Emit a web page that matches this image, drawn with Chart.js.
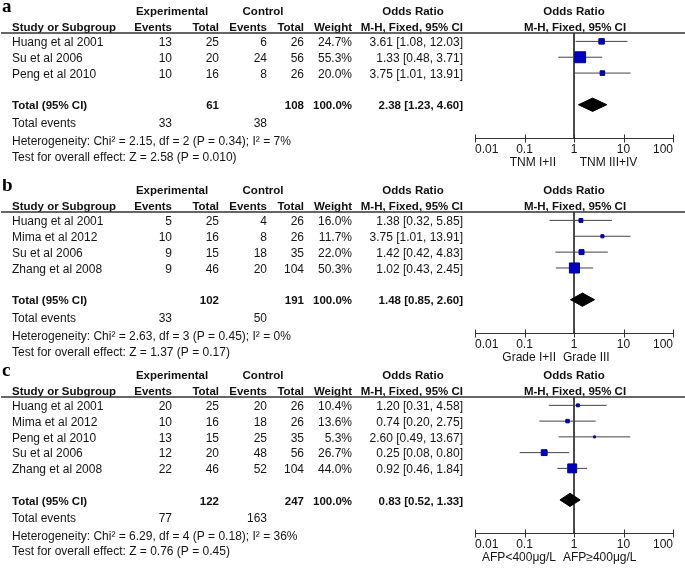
<!DOCTYPE html>
<html>
<head>
<meta charset="utf-8">
<script src="https://cdn.jsdelivr.net/npm/chart.js@4.4.1/dist/chart.umd.min.js"></script>
<style>
  body { margin: 0; background: #fff; }
  #wrap { position: relative; width: 685px; height: 574px; overflow: hidden; background: #fff; }
  canvas { position: absolute; left: 0; }
</style>
</head>
<body>
<div id="wrap">
  <canvas id="panel0"></canvas>
  <canvas id="panel1"></canvas>
  <canvas id="panel2"></canvas>
</div>
<script>
// ---- data (one sub-array per panel a, b, c) ----
const panelLetters = ['a', 'b', 'c'];
const studies = [
    ['Huang et al 2001', 'Su et al 2006', 'Peng et al 2010'],
    ['Huang et al 2001', 'Mima et al 2012', 'Su et al 2006', 'Zhang et al 2008'],
    ['Huang et al 2001', 'Mima et al 2012', 'Peng et al 2010', 'Su et al 2006', 'Zhang et al 2008']
];
const expEvents = [[13, 10, 10], [5, 10, 9, 9], [20, 10, 13, 12, 22]];
const expTotal  = [[25, 20, 16], [25, 16, 15, 46], [25, 16, 15, 20, 46]];
const ctlEvents = [[6, 24, 8], [4, 8, 18, 20], [20, 18, 25, 48, 52]];
const ctlTotal  = [[26, 56, 26], [26, 26, 35, 104], [26, 26, 35, 56, 104]];
const weights   = [[24.7, 55.3, 20.0], [16.0, 11.7, 22.0, 50.3], [10.4, 13.6, 5.3, 26.7, 44.0]];
const oddsRatio = [[3.61, 1.33, 3.75], [1.38, 3.75, 1.42, 1.02], [1.20, 0.74, 2.60, 0.25, 0.92]];
const ciLow     = [[1.08, 0.48, 1.01], [0.32, 1.01, 0.42, 0.43], [0.31, 0.20, 0.49, 0.08, 0.46]];
const ciHigh    = [[12.03, 3.71, 13.91], [5.85, 13.91, 4.83, 2.45], [4.58, 2.75, 13.67, 0.80, 1.84]];

const pooledExpTotal  = [61, 102, 122];
const pooledCtlTotal  = [108, 191, 247];
const pooledExpEvents = [33, 33, 77];
const pooledCtlEvents = [38, 50, 163];
const pooledOR   = [2.38, 1.48, 0.83];
const pooledLow  = [1.23, 0.85, 0.52];
const pooledHigh = [4.60, 2.60, 1.33];
const heterogeneity = [
    'Heterogeneity: Chi\u00b2 = 2.15, df = 2 (P = 0.34); I\u00b2 = 7%',
    'Heterogeneity: Chi\u00b2 = 2.63, df = 3 (P = 0.45); I\u00b2 = 0%',
    'Heterogeneity: Chi\u00b2 = 6.29, df = 4 (P = 0.18); I\u00b2 = 36%'
];
const overallTest = [
    'Test for overall effect: Z = 2.58 (P = 0.010)',
    'Test for overall effect: Z = 1.37 (P = 0.17)',
    'Test for overall effect: Z = 0.76 (P = 0.45)'
];
const favoursLeft  = ['TNM I+II', 'Grade I+II', 'AFP<400\u03bcg/L'];
const favoursRight = ['     TNM III+IV', 'Grade III', 'AFP\u2265400\u03bcg/L'];
const axisTicks = [0.01, 0.1, 1, 10, 100];
const axisTickLabels = ['0.01', '0.1', '1', '10', '100'];

// ---- layout ----
const ROW = 15.8;
const PAD_TOP = 33, PAD_BOTTOM = 40;
const panelTops = [0, 179, 364];
const cols = { study: 12, expEv: 172, expTot: 219, ctlEv: 267, ctlTot: 304, weight: 352, orText: 463 };
const SANS = '"Liberation Sans", Arial, sans-serif';
const REG = '12px ' + SANS;
const BOLD = 'bold 11.5px ' + SANS;
const Y_MIN = -0.53;

const fmtCI = (or, lo, hi) => `${or.toFixed(2)} [${lo.toFixed(2)}, ${hi.toFixed(2)}]`;

const forestText = {
    id: 'forestText',
    afterDraw(chart, args, opts) {
        const p = opts.panel;
        const { ctx, chartArea } = chart;
        const xs = chart.scales.x, ys = chart.scales.y;
        const n = studies[p].length, totalRow = n + 1;
        const top = chartArea.top, bottom = chartArea.bottom;
        const x1 = xs.getPixelForValue(1);

        const put = (str, px, py, align, font, color) => {
            ctx.font = font;
            ctx.fillStyle = color || '#151515';
            ctx.textAlign = align;
            ctx.textBaseline = 'middle';
            ctx.fillText(String(str), px, py);
        };

        ctx.save();
        // panel letter
        ctx.font = 'bold 19px "Liberation Serif", "Times New Roman", serif';
        ctx.fillStyle = '#000';
        ctx.textAlign = 'left';
        ctx.textBaseline = 'alphabetic';
        ctx.fillText(panelLetters[p], 2, top - 21);

        // headers
        const h1 = top - 21, h2 = top - 5.5;
        put('Experimental', 172, h1, 'center', BOLD, '#111');
        put('Control', 263, h1, 'center', BOLD, '#111');
        put('Odds Ratio', 413, h1, 'center', BOLD, '#111');
        put('Odds Ratio', x1, h1, 'center', BOLD, '#111');
        put('Study or Subgroup', cols.study, h2, 'left', BOLD, '#111');
        put('Events', cols.expEv, h2, 'right', BOLD, '#111');
        put('Total', cols.expTot, h2, 'right', BOLD, '#111');
        put('Events', cols.ctlEv, h2, 'right', BOLD, '#111');
        put('Total', cols.ctlTot, h2, 'right', BOLD, '#111');
        put('Weight', cols.weight, h2, 'right', BOLD, '#111');
        put('M-H, Fixed, 95% CI', cols.orText, h2, 'right', BOLD, '#111');
        put('M-H, Fixed, 95% CI', x1 + 1, h2, 'center', BOLD, '#111');

        // underline
        ctx.beginPath();
        ctx.moveTo(1, top);
        ctx.lineTo(685, top);
        ctx.lineWidth = 1.5;
        ctx.strokeStyle = '#333';
        ctx.stroke();

        // study rows
        studies[p].forEach((s, i) => {
            const py = ys.getPixelForValue(i) + 1.5;
            put(s, cols.study, py, 'left', REG);
            put(expEvents[p][i], cols.expEv, py, 'right', REG);
            put(expTotal[p][i], cols.expTot, py, 'right', REG);
            put(ctlEvents[p][i], cols.ctlEv, py, 'right', REG);
            put(ctlTotal[p][i], cols.ctlTot, py, 'right', REG);
            put(weights[p][i].toFixed(1) + '%', cols.weight, py, 'right', REG);
            put(fmtCI(oddsRatio[p][i], ciLow[p][i], ciHigh[p][i]), cols.orText, py, 'right', REG);
        });

        // pooled rows
        const ty = ys.getPixelForValue(totalRow) + 1.5;
        const wSum = weights[p].reduce((a, b) => a + b, 0);
        put('Total (95% CI)', cols.study, ty, 'left', BOLD, '#111');
        put(pooledExpTotal[p], cols.expTot, ty, 'right', BOLD, '#111');
        put(pooledCtlTotal[p], cols.ctlTot, ty, 'right', BOLD, '#111');
        put(wSum.toFixed(1) + '%', cols.weight, ty, 'right', BOLD, '#111');
        put(fmtCI(pooledOR[p], pooledLow[p], pooledHigh[p]), cols.orText, ty, 'right', BOLD, '#111');

        const ey = ys.getPixelForValue(totalRow + 1.08) + 1.5;
        put('Total events', cols.study, ey, 'left', REG);
        put(pooledExpEvents[p], cols.expEv, ey, 'right', REG);
        put(pooledCtlEvents[p], cols.ctlEv, ey, 'right', REG);
        put(heterogeneity[p], cols.study, ys.getPixelForValue(totalRow + 2.22) + 1.5, 'left', REG);
        put(overallTest[p], cols.study, ys.getPixelForValue(totalRow + 3.22) + 1.5, 'left', REG);

        // log axis
        const ay = Math.round(bottom) + 0.5;
        ctx.beginPath();
        ctx.moveTo(xs.getPixelForValue(axisTicks[0]), ay);
        ctx.lineTo(xs.getPixelForValue(axisTicks[axisTicks.length - 1]), ay);
        axisTicks.forEach(t => {
            const tx = Math.round(xs.getPixelForValue(t)) + 0.5;
            ctx.moveTo(tx, ay - 4);
            ctx.lineTo(tx, ay + 4);
        });
        ctx.lineWidth = 1;
        ctx.strokeStyle = '#333';
        ctx.stroke();
        axisTicks.forEach((t, i) => {
            const align = i === 0 ? 'left' : (i === axisTicks.length - 1 ? 'right' : 'center');
            put(axisTickLabels[i], xs.getPixelForValue(t), ay + 11, align, REG);
        });
        put(favoursLeft[p], x1 - 18, ay + 24, 'right', REG);
        put(favoursRight[p], x1 - 11, ay + 24, 'left', REG);
        ctx.restore();
    }
};

function buildPanel(p) {
    const n = studies[p].length;
    const totalRow = n + 1;
    const yMax = totalRow + 2.1;
    const areaH = Math.round((yMax - Y_MIN) * ROW);
    const canvas = document.getElementById('panel' + p);
    canvas.width = 685;
    canvas.height = PAD_TOP + areaH + PAD_BOTTOM;
    canvas.style.top = panelTops[p] + 'px';

    const h = 0.42;
    const datasets = [
        {
            // study squares, size grows with weight
            data: oddsRatio[p].map((v, i) => ({ x: v, y: i })),
            showLine: false,
            pointStyle: 'rect',
            pointRadius: weights[p].map(w => (1 + 0.18 * w) / Math.SQRT2),
            pointBackgroundColor: '#0000c4',
            pointBorderColor: '#00008a',
            pointBorderWidth: 1,
            order: 0
        },
        {
            // pooled diamond
            data: [
                { x: pooledLow[p], y: totalRow },
                { x: pooledOR[p], y: totalRow - h },
                { x: pooledHigh[p], y: totalRow },
                { x: pooledOR[p], y: totalRow + h },
                { x: pooledLow[p], y: totalRow }
            ],
            showLine: true,
            fill: 'shape',
            backgroundColor: '#000',
            borderColor: '#000',
            borderWidth: 1,
            pointRadius: 0,
            tension: 0,
            order: 0
        }
    ];
    studies[p].forEach((s, i) => {
        datasets.push({
            data: [{ x: ciLow[p][i], y: i }, { x: ciHigh[p][i], y: i }],
            showLine: true,
            borderColor: '#444',
            borderWidth: 1,
            pointRadius: 0,
            order: 1
        });
    });
    datasets.push({
        // line of no effect
        data: [{ x: 1, y: Y_MIN }, { x: 1, y: yMax }],
        showLine: true,
        borderColor: '#333',
        borderWidth: 1,
        pointRadius: 0,
        order: 2
    });

    new Chart(canvas.getContext('2d'), {
        type: 'scatter',
        data: { datasets },
        options: {
            responsive: false,
            animation: false,
            devicePixelRatio: 1,
            events: [],
            layout: { padding: { left: 475, right: 12, top: PAD_TOP, bottom: PAD_BOTTOM } },
            scales: {
                x: { type: 'logarithmic', min: 0.01, max: 100, display: false },
                y: { type: 'linear', min: Y_MIN, max: yMax, reverse: true, display: false }
            },
            plugins: {
                legend: { display: false },
                tooltip: { enabled: false },
                forestText: { panel: p }
            }
        },
        plugins: [forestText]
    });
}

[0, 1, 2].forEach(buildPanel);
</script>
</body>
</html>
